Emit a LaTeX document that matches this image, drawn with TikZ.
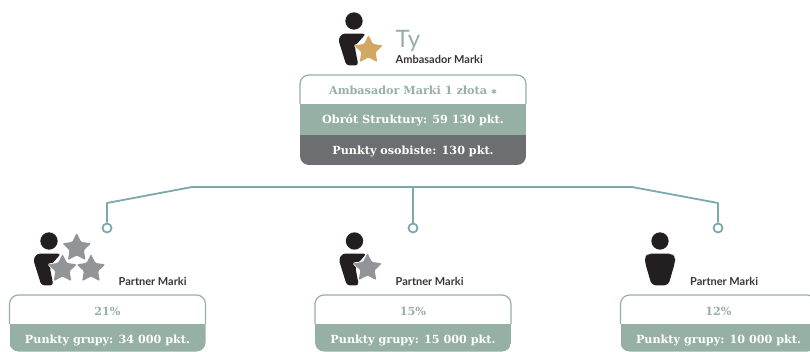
\documentclass[tikz,border=0pt]{standalone}
\usepackage{fontspec}
\setmainfont{Lato}
\newfontfamily\slab{DejaVu Serif}
\newfontfamily\symb{DejaVu Sans}
\usetikzlibrary{shapes.geometric}
\definecolor{sage}{HTML}{96B0A5}
\definecolor{slate}{HTML}{6D6E71}
\definecolor{teal}{HTML}{7AA9AE}
\definecolor{stargray}{HTML}{929497}
\definecolor{gold}{HTML}{D0A862}
\definecolor{ink}{HTML}{231F20}
\tikzset{
  wire/.style={draw=teal,line width=1.8pt},
  dot/.style={circle,draw=teal,line width=1.8pt,fill=white,minimum size=9pt,inner sep=0pt},
  boxline/.style={draw=sage,line width=1.2pt,rounded corners=9pt},
  rowtext/.style={font=\slab\bfseries\fontsize{11.2}{13}\selectfont,text=white,inner sep=0pt,anchor=center},
  headtext/.style={font=\slab\bfseries\fontsize{11.2}{13}\selectfont,text=sage,inner sep=0pt,anchor=center},
  role/.style={font=\bfseries\fontsize{11}{12}\selectfont,text=ink!90,inner sep=0pt,anchor=base west},
  startop/.style={star,star points=5,star point ratio=2,inner sep=0pt,line join=round,rounded corners=1.2pt},
}
\newcommand{\armperson}[2]{%
  \begin{scope}[shift={(#1,#2)},x=0.3333pt,y=-0.3333pt]
    \fill[ink] (0,0) circle (26);
    \fill[ink,rounded corners=3pt] (-37,38) -- (36,38) -- (2,76) -- (13,133) -- (-23,133) -- (-47,56) -- cycle;
  \end{scope}}
\newcommand{\plainperson}[2]{%
  \begin{scope}[shift={(#1,#2)},x=0.3333pt,y=-0.3333pt]
    \fill[ink] (0,0) circle (26);
    \fill[ink,rounded corners=4pt] (-38,38) -- (38,38) -- (45,50) -- (45,64) -- (25,133) -- (-25,133) -- (-45,64) -- (-45,50) -- cycle;
  \end{scope}}
\newcommand{\starat}[4]{%
  \node[startop,fill=white,draw=white,line width=1.5pt,minimum size=30pt] at (#2,#3) {};
  \node[startop,fill=#4,minimum size=30pt] (#1) at (#2,#3) {};}
\newcommand{\childbox}[5]{%
  \begin{scope}
    \clip[rounded corners=9pt] (#2,295) rectangle ++(196,56.5);
    \fill[sage] (#2,324) rectangle ++(196,28);
  \end{scope}
  \draw[boxline] (#2,324) -- (#2,295) -- ++(196,0) -- ++(0,29);
  \node[headtext] (#1pct) at ([xshift=98pt]#2,311) {#4};
  \node[rowtext] (#1pts) at ([xshift=98pt]#2,340.5) {Punkty grupy: #5 pkt.};}
\begin{document}
\begin{tikzpicture}[x=1pt,y=-1pt]
\path[use as bounding box] (0,0) rectangle (810,352);
\clip (0,0) rectangle (810,352);
\fill[white] (0,0) rectangle (810,352);
\armperson{354}{21}
\starat{sgold}{368.5}{50}{gold}
\node[font=\fontsize{24}{26}\selectfont,text=sage,inner sep=0pt,anchor=base west] (ty) at (395.5,48) {Ty};
\node[role] (toprole) at (395.5,64) {Ambasador Marki};
\begin{scope}
  \clip[rounded corners=9pt] (300,75) rectangle (526,165);
  \fill[sage] (300,104) rectangle (526,135);
  \fill[slate] (300,135) rectangle (526,165);
\end{scope}
\draw[boxline] (300,104) -- (300,75) -- (526,75) -- (526,104);
\node[headtext] (mainhead) at (413,90.5) {Ambasador Marki 1 złota {\symb\fontsize{7}{8}\selectfont ✱}};
\node[rowtext] (mainturn) at (413,120.5) {Obrót Struktury: 59 130 pkt.};
\node[rowtext] (mainown) at (413,151.5) {Punkty osobiste: 130 pkt.};
\coordinate (tl) at (192,187);
\coordinate (tr) at (632,187);
\coordinate (cc) at (413,187);
\coordinate (el) at (107,203);
\coordinate (er) at (718,203);
\node[dot] (dl) at (107,228) {};
\node[dot] (dc) at (413,228) {};
\node[dot] (dr) at (718,228) {};
\draw[wire,line join=round] (dl) -- (el) -- (tl) -- (tr) -- (er) -- (dr);
\draw[wire] (cc) -- (dc);
\armperson{49}{241}
\starat{s1}{62.5}{269}{stargray}
\starat{s2}{91}{269}{stargray}
\starat{s3}{76.7}{248}{stargray}
\node[role] (r1) at (118.5,285) {Partner Marki};
\childbox{a}{9.5}{295}{21\%}{34 000}
\armperson{354.5}{241}
\starat{s4}{367.5}{268}{stargray}
\node[role] (r2) at (395.5,285) {Partner Marki};
\childbox{b}{315}{295}{15\%}{15 000}
\plainperson{660}{241}
\node[role] (r3) at (690,285) {Partner Marki};
\childbox{c}{620.5}{295}{12\%}{10 000}
\end{tikzpicture}
\end{document}
